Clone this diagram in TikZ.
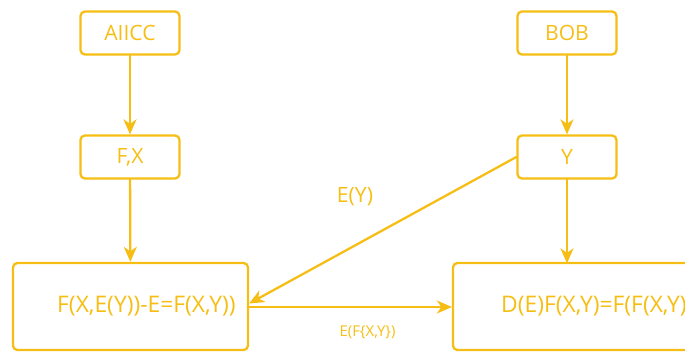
\documentclass[tikz,border=0pt]{standalone}
\usepackage{fontspec}
\setmainfont{Open Sans}
\usetikzlibrary{arrows.meta}
\definecolor{gold}{RGB}{246,190,20}
\begin{document}
\begin{tikzpicture}[scale=1, font=\fontsize{12}{14}\selectfont, line join=round, line cap=round,
>={Stealth[length=3mm,width=2.6mm,inset=0.9mm]},
box/.style={draw=gold, line width=1.3pt, rounded corners=2.5pt, text=gold, minimum width=1.98cm, minimum height=0.86cm},
bigbox/.style={draw=gold, line width=1.3pt, rounded corners=2.5pt, minimum height=1.74cm},
txt/.style={text=gold, inner sep=0pt},
link/.style={->, draw=gold, line width=1.3pt}]
\def\W{13.7} \def\H{7.06}
\useasboundingbox (0,0) rectangle (\W,\H);
\clip (0,0) rectangle (\W,\H);
\node[box] (alice) at (2.6,6.4) {AIICC};
\node[box] (fx) at (2.6,3.92) {F,X};
\node[box] (bob) at (11.34,6.4) {BOB};
\node[box] (y) at (11.34,3.92) {Y};
\node[bigbox, minimum width=4.7cm] (lbox) at (2.61,0.93) {};
\node[bigbox, minimum width=5cm] (rbox) at (11.56,0.93) {};
\node[txt, anchor=west, font=\fontsize{13}{15}\selectfont] (ltxt) at ([xshift=0.9cm]lbox.west) {F(X,E(Y))-E=F(X,Y))};
\node[txt, anchor=west, font=\fontsize{13}{15}\selectfont] (rtxt) at ([xshift=0.98cm]rbox.west) {D(E)F(X,Y)=F(F(X,Y))};
\draw[link] (alice)--(fx);
\draw[link] (fx)--(lbox);
\draw[link] (bob)--(y);
\draw[link] (y)--([yshift=-0.03cm]rbox.north-|y);
\draw[link] (y.west)--([yshift=0.06cm]lbox.east);
\draw[link] ([yshift=-0.01cm]lbox.east)--([yshift=-0.01cm]rbox.west);
\node[txt] (ey) at (7.1,3.12) {E(Y)};
\node[txt, font=\fontsize{8.5}{10}\selectfont] (efxy) at (7.35,0.42) {E(F\{X,Y\})};
\end{tikzpicture}
\end{document}
